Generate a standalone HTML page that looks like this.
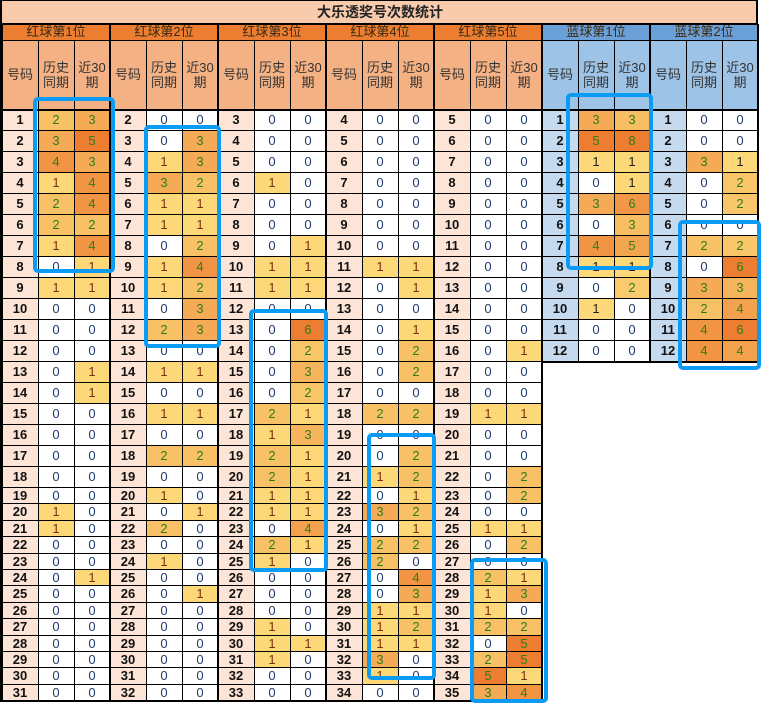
<!DOCTYPE html>
<html><head><meta charset="utf-8"><style>
body{margin:0;width:776px;height:705px;background:#fff;position:relative;overflow:hidden;font-family:"Liberation Sans","Noto Sans CJK SC",sans-serif;}
.c{position:absolute;box-sizing:border-box;display:flex;align-items:center;justify-content:center;text-align:center;font-size:13px;line-height:1.15;}
.ln{position:absolute;background:#000;}
.bx{position:absolute;box-sizing:border-box;border:4px solid #0a9cf5;border-radius:5px;}
</style></head><body>
<div id="r"></div>
<script>
const R=document.getElementById('r');
function add(x,y,w,h,txt,st){const d=document.createElement('div');d.className='c';d.style.cssText+=`left:${x}px;top:${y}px;width:${w}px;height:${h}px;`+(st||'');d.innerHTML=txt;R.appendChild(d);}
function ln(x,y,w,h){const d=document.createElement('div');d.className='ln';d.style.cssText=`left:${x}px;top:${y}px;width:${w}px;height:${h}px;`;R.appendChild(d);}
function bx(x1,y1,x2,y2){const d=document.createElement('div');d.className='bx';d.style.cssText=`left:${x1}px;top:${y1}px;width:${x2-x1}px;height:${y2-y1}px;`;R.appendChild(d);}
function rt(i){return Math.round(i<=18?110+21*i:488+16.4*(i-18));}
const G=[2,110,218,326,434,542,650];
const names=['红球第1位','红球第2位','红球第3位','红球第4位','红球第5位','蓝球第1位','蓝球第2位'];
const D=[
[[2,3],[3,5],[4,3],[1,4],[2,4],[2,2],[1,4],[0,1],[1,1],[0,0],[0,0],[0,0],[0,1],[0,1],[0,0],[0,0],[0,0],[0,0],[0,0],[1,0],[1,0],[0,0],[0,0],[0,1],[0,0],[0,0],[0,0],[0,0],[0,0],[0,0],[0,0]],
[[0,0],[0,3],[1,3],[3,2],[1,1],[1,1],[0,2],[1,4],[1,2],[0,3],[2,3],[0,0],[1,1],[0,0],[1,1],[0,0],[2,2],[0,0],[1,0],[0,1],[2,0],[0,0],[1,0],[0,0],[0,1],[0,0],[0,0],[0,0],[0,0],[0,0],[0,0]],
[[0,0],[0,0],[0,0],[1,0],[0,0],[0,0],[0,1],[1,1],[1,1],[0,0],[0,6],[0,2],[0,3],[0,2],[2,1],[1,3],[2,1],[2,1],[1,1],[1,1],[0,4],[2,1],[1,0],[0,0],[0,0],[0,0],[1,0],[1,1],[1,0],[0,0],[0,0]],
[[0,0],[0,0],[0,0],[0,0],[0,0],[0,0],[0,0],[1,1],[0,1],[0,0],[0,1],[0,2],[0,2],[0,0],[2,2],[0,0],[0,2],[1,2],[0,1],[3,2],[0,1],[2,2],[2,0],[0,4],[0,3],[1,1],[1,2],[1,1],[3,0],[1,0],[0,0]],
[[0,0],[0,0],[0,0],[0,0],[0,0],[0,0],[0,0],[0,0],[0,0],[0,0],[0,0],[0,1],[0,0],[0,0],[1,1],[0,0],[0,0],[0,2],[0,2],[0,0],[1,1],[0,2],[0,0],[2,1],[1,3],[1,0],[2,2],[0,5],[2,5],[5,1],[3,4]],
[[3,3],[5,8],[1,1],[0,1],[3,6],[0,3],[4,5],[1,1],[0,2],[1,0],[0,0],[0,0]],
[[0,0],[0,0],[3,1],[0,2],[0,2],[0,0],[2,2],[0,6],[3,3],[2,4],[4,6],[4,4]]
];
function lerp(a,b,t){return Math.round(a+(b-a)*t);}
function col(v,max){if(v==0)return '#fff';const t=Math.min(1,(v-1)/Math.max(max-1,4));
 const A=[252,216,120],B=[237,125,49];return `rgb(${lerp(A[0],B[0],t)},${lerp(A[1],B[1],t)},${lerp(A[2],B[2],t)})`;}
add(2,0,756,24,'大乐透奖号次数统计','background:#f8cbad;font-weight:bold;font-size:14px;color:#222;');
for(let g=0;g<7;g++){
 const x=G[g],blue=g>=5,d=D[g],n=d.length;
 add(x,24,108,17,names[g],`background:${blue?'#6a9fd8':'#ed7d31'};color:#3a2a10;font-size:13px;`);
 add(x,41,108,69,'',`background:${blue?'#9dc3e6':'#f4b183'};`);
 add(x,41,36,69,'号码','color:#333;');
 add(x+36,41,36,69,'历史<br>同期','color:#333;');
 add(x+72,41,36,69,'近30<br>期','color:#333;');
 const m0=Math.max(...d.map(a=>a[0])),m1=Math.max(...d.map(a=>a[1]));
 for(let i=0;i<n;i++){
  const y=rt(i),h=rt(i+1)-y;
  add(x,y,36,h,String(g<5?i+1+g:i+1),`background:${blue?'#c5daef':'#fce4d6'};font-weight:bold;color:#111;`);
  [0,1].forEach(k=>{const v=d[i][k];const c=v==0?'#1f3b70':(v==1?(blue?'#222':'#7a3010'):'#2e7d1a');
   add(x+36+36*k,y,36,h,String(v),`background:${col(v,k?m1:m0)};color:${c};`);});
  ln(x,y+h-1,108,1);
 }
 const bot=rt(n);
 ln(x+36,41,1,bot-41);ln(x+72,41,1,bot-41);
 ln(x-1,24,2,bot-24);ln(x+107,24,2,bot-24);
 ln(x,bot-1,108,2);
}
ln(0,0,2,702);ln(756,0,2,24);ln(0,0,758,1);
ln(2,23,756,2);ln(2,40,756,1);ln(2,109,756,2);
bx(33,97,115,273);bx(144,125,221,348);bx(249,309,328,572);bx(367,433,436,680);bx(470,558,548,703);bx(566,93,653,270);bx(678,220,761,370);
</script>
</body></html>
